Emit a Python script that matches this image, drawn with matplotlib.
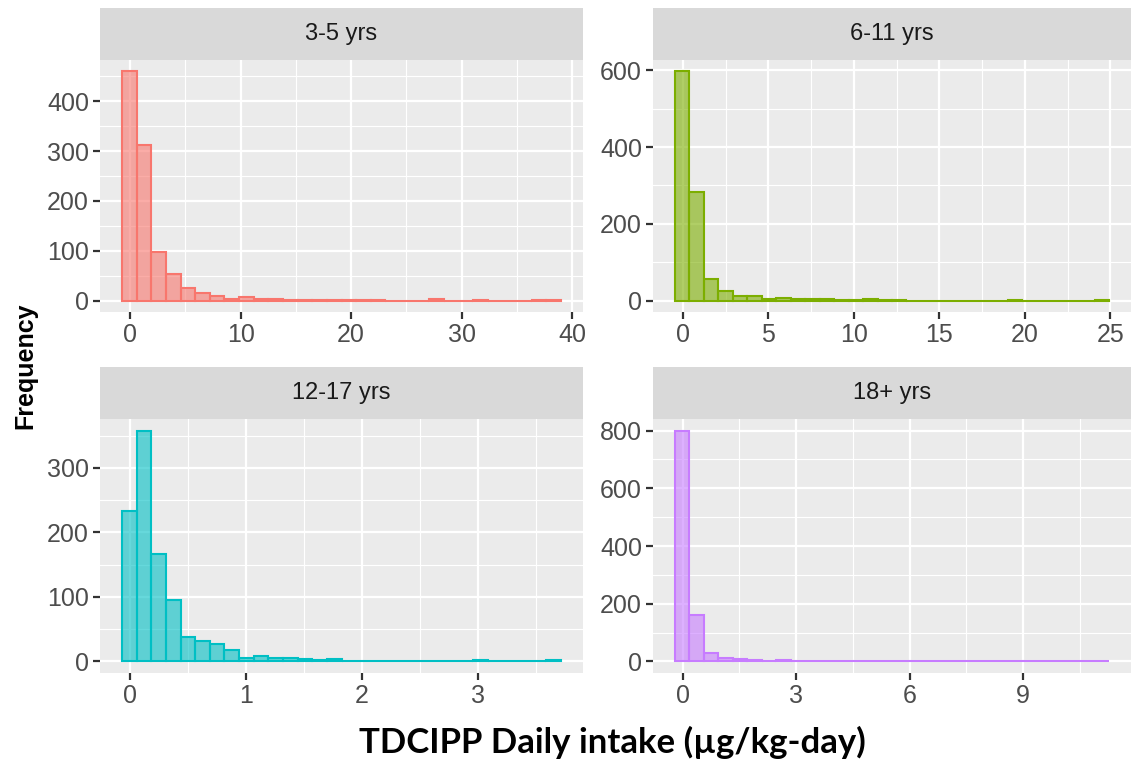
import numpy as np
import matplotlib
matplotlib.use("Agg")
import matplotlib.pyplot as plt

# facet labels and ggplot default hue colours
groups = ["3-5 yrs", "6-11 yrs", "12-17 yrs", "18+ yrs"]
colors = ["#F8766D", "#7CAE00", "#00BFC4", "#C77CFF"]

# 30-bin histograms: left edge of first bin, bin width, counts
bin_start = [-0.75, -0.47, -0.072, -0.21]
bin_width = [1.325, 0.847, 0.1264, 0.383]

counts_3_5 = [460, 312, 97, 54, 26, 16, 9, 4, 7, 3,
              4, 1, 2, 2, 1, 1, 1, 1, 0, 0,
              0, 3, 0, 0, 2, 0, 0, 0, 1, 1]
counts_6_11 = [597, 284, 57, 24, 13, 13, 4, 7, 3, 3,
               3, 2, 1, 3, 1, 1, 0, 0, 0, 0,
               0, 0, 0, 2, 0, 0, 0, 0, 0, 2]
counts_12_17 = [234, 358, 166, 96, 38, 32, 27, 17, 6, 9,
                5, 6, 4, 2, 4, 1, 1, 1, 1, 0,
                0, 0, 0, 0, 2, 1, 1, 0, 0, 2]
counts_18 = [800, 162, 30, 12, 7, 5, 2, 4, 1, 1,
             0, 0, 0, 0, 0, 0, 0, 0, 0, 0,
             0, 0, 0, 0, 0, 0, 0, 0, 0, 3]
all_counts = [counts_3_5, counts_6_11, counts_12_17, counts_18]

y_ticks = [[0, 100, 200, 300, 400], [0, 200, 400, 600],
           [0, 100, 200, 300], [0, 200, 400, 600, 800]]
x_ticks = [[0, 10, 20, 30, 40], [0, 5, 10, 15, 20, 25],
           [0, 1, 2, 3], [0, 3, 6, 9]]

W, H = 1134, 769
fig = plt.figure(figsize=(W / 100, H / 100), dpi=100)

# panel boxes in pixels: (left, top, right, bottom), strip height
boxes = [(100, 60, 583, 312), (653, 60, 1131, 312),
         (100, 419, 583, 673), (653, 419, 1131, 673)]
strip_h = 52

tick_font = dict(family="Liberation Sans", size=18, color="#4D4D4D")

for i in range(4):
    l, t, r, b = boxes[i]
    ax = fig.add_axes([l / W, 1 - b / H, (r - l) / W, (b - t) / H])
    ax.set_facecolor("#EBEBEB")
    for s in ax.spines.values():
        s.set_visible(False)

    counts = np.array(all_counts[i])
    edges = bin_start[i] + bin_width[i] * np.arange(len(counts) + 1)
    ax.bar(edges[:-1], counts, width=bin_width[i], align="edge",
           color=colors[i], alpha=0.6, edgecolor="none", zorder=3)
    ax.bar(edges[:-1], counts, width=bin_width[i], align="edge",
           facecolor="none", edgecolor=colors[i], linewidth=1.5, zorder=4)

    xt = x_ticks[i]
    yt = y_ticks[i]
    ax.set_xticks(xt)
    ax.set_yticks(yt)
    xstep = xt[1] - xt[0]
    ystep = yt[1] - yt[0]
    ax.set_xticks(np.arange(xt[0] - xstep / 2, xt[-1] + xstep, xstep), minor=True)
    ax.set_yticks(np.arange(yt[0] - ystep / 2, yt[-1] + ystep, ystep), minor=True)

    # ggplot-style 5% expansion (after ticks so they do not widen the view)
    xr = edges[-1] - edges[0]
    ax.set_xlim(edges[0] - 0.05 * xr, edges[-1] + 0.05 * xr)
    ymax = counts.max()
    ax.set_ylim(-0.05 * ymax, 1.05 * ymax)

    ax.grid(True, which="major", color="white", linewidth=1.6, zorder=0)
    ax.grid(True, which="minor", color="white", linewidth=0.8, zorder=0)
    ax.set_axisbelow(True)
    ax.tick_params(which="major", length=5, width=1.6, color="#333333", pad=3)
    ax.tick_params(which="minor", length=0)
    ax.set_xticklabels([str(v) for v in xt], fontdict=tick_font)
    ax.set_yticklabels([str(v) for v in yt], fontdict=tick_font)

    sax = fig.add_axes([l / W, 1 - t / H, (r - l) / W, strip_h / H])
    sax.set_facecolor("#D9D9D9")
    sax.set_xticks([])
    sax.set_yticks([])
    for s in sax.spines.values():
        s.set_visible(False)
    sax.text(0.5, 0.5, groups[i], ha="center", va="center",
             family="Liberation Sans", size=17, color="#1A1A1A",
             transform=sax.transAxes)

fig.text(25 / W, 1 - 366 / H, "Frequency", rotation=90, ha="center", va="center",
         family="Liberation Sans", weight="bold", size=18, color="black")
fig.text(612 / W, 1 - 742 / H, "TDCIPP Daily intake (µg/kg-day)", ha="center",
         va="center", family="Lato", weight="bold", size=25, color="black")

fig.savefig("out.png", dpi=100)
